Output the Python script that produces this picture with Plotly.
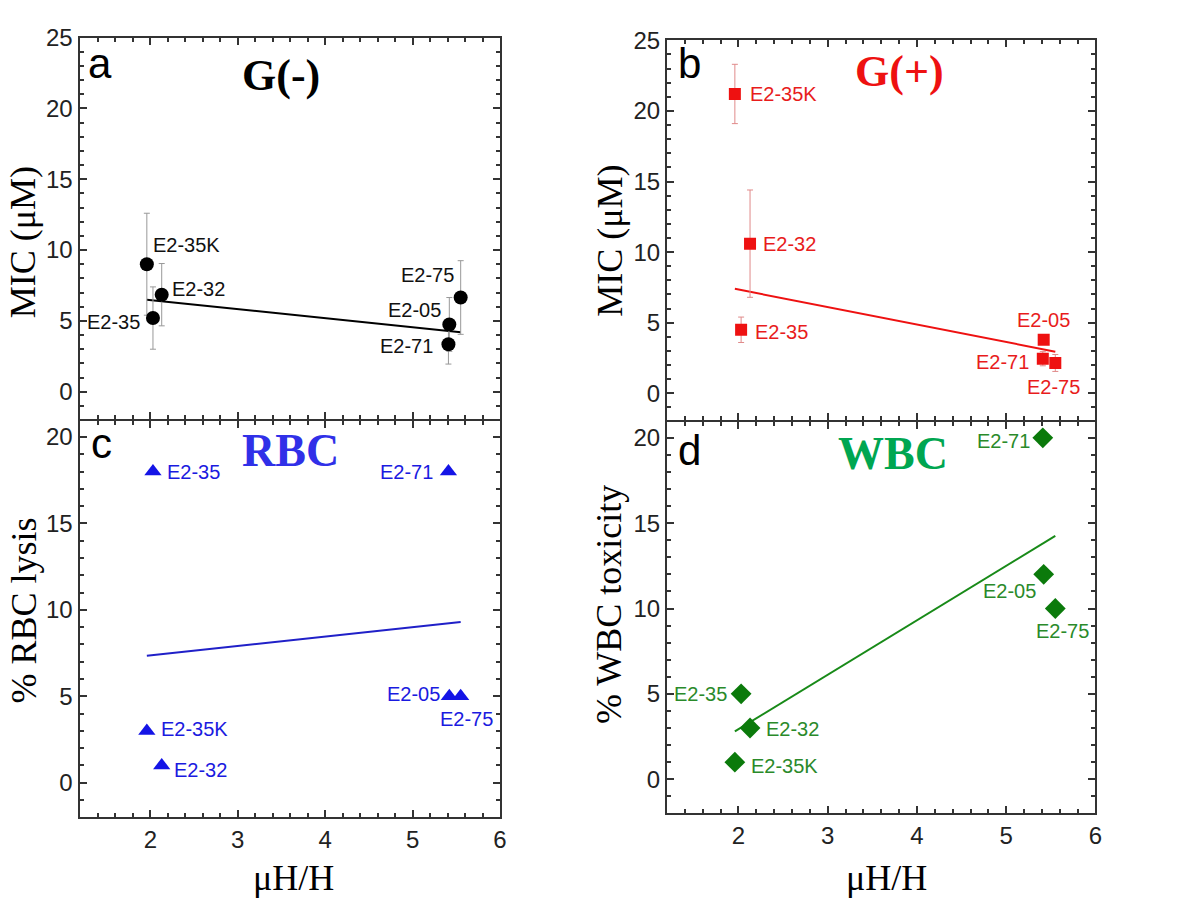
import plotly.graph_objects as go

W, H = 1181, 900

# ---------------- data ----------------
peptides = ["E2-35K", "E2-35", "E2-32", "E2-05", "E2-71", "E2-75"]
mu_h_ratio = [1.96, 2.03, 2.13, 5.42, 5.41, 5.55]

mic_gneg = [9.0, 5.2, 6.85, 4.75, 3.35, 6.65]
mic_gneg_err = [3.6, 2.2, 2.2, 1.9, 1.4, 2.6]

mic_gpos = [21.2, 4.5, 10.6, 3.8, 2.45, 2.15]
mic_gpos_err = [2.1, 0.9, 3.8, 0.3, 0.5, 0.6]

rbc_lysis = [3, 18, 1, 5, 18, 5]
wbc_toxicity = [1, 5, 3, 12, 20, 10]

fit_x = [1.96, 5.55]
fit_gneg = [6.5, 4.2]
fit_gpos = [7.4, 2.95]
fit_rbc = [7.35, 9.3]
fit_wbc = [2.8, 14.25]

# ---------------- styling ----------------
SANS = "Liberation Sans"
SERIF = "Liberation Serif"
FRAME = "#333333"

def px_x(p):
    return p / W

def px_y(p):
    return 1 - p / H

def ax(domain, anchor, rng, dtick, mdtick, show_labels=True):
    return dict(domain=domain, anchor=anchor, range=rng, showline=True, linecolor=FRAME, linewidth=2,
                mirror="allticks", ticks="inside", ticklen=7, tickwidth=2, tickcolor=FRAME,
                showgrid=False, zeroline=False, tick0=0, dtick=dtick, showticklabels=show_labels,
                tickfont=dict(family=SANS, size=24, color="#222"),
                minor=dict(ticks="inside", ticklen=4, dtick=mdtick, tick0=0,
                           tickwidth=1.5, tickcolor=FRAME))

xd_left = [px_x(80), px_x(503)]
xd_right = [px_x(671), px_x(1102)]

layout_axes = dict(
    xaxis=ax(xd_left, "y", [1.19, 6.0], 1, 0.2, show_labels=False),
    yaxis=ax([px_y(411), px_y(24)], "x", [-1.9, 25], 5, 1),
    xaxis2=ax(xd_right, "y2", [1.2, 6.0], 1, 0.2, show_labels=False),
    yaxis2=ax([px_y(412), px_y(26)], "x2", [-1.86, 25.05], 5, 1),
    xaxis3=ax(xd_left, "y3", [1.19, 6.0], 1, 0.2),
    yaxis3=ax([px_y(816), px_y(413)], "x3", [-2.0, 20.95], 5, 1),
    xaxis4=ax(xd_right, "y4", [1.2, 6.0], 1, 0.2),
    yaxis4=ax([px_y(812), px_y(414)], "x4", [-2.0, 20.95], 5, 1),
)
axis_ids = {"a": ("x", "y"), "b": ("x2", "y2"), "c": ("x3", "y3"), "d": ("x4", "y4")}

fig = go.Figure()

series = [
    ("a", mic_gneg, mic_gneg_err, fit_gneg, dict(symbol="circle", size=14, color="#000000"),
     "#999999", "#000000", "#111111"),
    ("b", mic_gpos, mic_gpos_err, fit_gpos, dict(symbol="square", size=12, color="#ee1111"),
     "#e08a8a", "#ee1111", "#e81c1c"),
    ("c", rbc_lysis, None, fit_rbc, dict(symbol="triangle-up", size=15, color="#1414e6"),
     None, "#2020c8", "#1a1ae0"),
    ("d", wbc_toxicity, None, fit_wbc, dict(symbol="diamond", size=16, color="#0b7a0b"),
     None, "#188a18", "#2a8a2a"),
]

for key, vals, errs, fit, marker, errcol, linecol, txtcol in series:
    xa, ya = axis_ids[key]
    fig.add_trace(go.Scatter(
        x=fit_x, y=fit, mode="lines", line=dict(color=linecol, width=2),
        xaxis=xa, yaxis=ya, showlegend=False))
    tr = dict(x=mu_h_ratio, y=vals, mode="markers", marker=marker,
              xaxis=xa, yaxis=ya, showlegend=False)
    if errs is not None:
        tr["error_y"] = dict(type="data", array=errs, color=errcol, thickness=1, width=3)
    fig.add_trace(go.Scatter(**tr))

# label offsets (pixels) per panel and peptide
label_pos = {
    "a": {"E2-35K": ("left", 4, 19), "E2-35": ("right", -11, -4), "E2-32": ("left", 8, 6),
          "E2-05": ("right", -6, 14), "E2-71": ("right", -13, -2), "E2-75": ("right", -5, 23)},
    "b": {"E2-35K": ("left", 13, 0), "E2-35": ("left", 12, -2), "E2-32": ("left", 11, 0),
          "E2-05": ("center", 0, 20), "E2-71": ("right", -12, -3), "E2-75": ("center", -2, -24)},
    "c": {"E2-35K": ("left", 12, 2), "E2-35": ("left", 12, 0), "E2-32": ("left", 10, -5),
          "E2-05": ("right", -7, 2), "E2-71": ("right", -13, 0), "E2-75": ("center", 6, -23)},
    "d": {"E2-35K": ("left", 14, -4), "E2-35": ("right", -12, 0), "E2-32": ("left", 14, -1),
          "E2-05": ("right", -6, -17), "E2-71": ("right", -11, -3), "E2-75": ("center", 7, -22)},
}

annotations = []
for key, vals, errs, fit, marker, errcol, linecol, txtcol in series:
    xa, ya = axis_ids[key]
    for name, xv, yv in zip(peptides, mu_h_ratio, vals):
        anchor, dx, dy = label_pos[key][name]
        annotations.append(dict(
            x=xv, y=yv, xref=xa, yref=ya, text=name, showarrow=False,
            xanchor=anchor, yanchor="middle", xshift=dx, yshift=dy,
            font=dict(family=SANS, size=20, color=txtcol)))

def paper_text(x, y, text, font, angle=0):
    annotations.append(dict(x=px_x(x), y=px_y(y), xref="paper", yref="paper", text=text,
                            showarrow=False, xanchor="center", yanchor="middle",
                            textangle=angle, font=font))

letter_font = dict(family=SANS, size=42, color="#000000")
paper_text(101, 50, "a", letter_font)
paper_text(694, 50, "b", letter_font)
paper_text(102, 436, "c", letter_font)
paper_text(694, 443, "d", letter_font)

paper_text(283, 62, "<b>G(-)</b>", dict(family=SERIF, size=44, color="#000000"))
paper_text(905, 58, "<b>G(+)</b>", dict(family=SERIF, size=44, color="#ee1111"))
paper_text(292, 443, "<b>RBC</b>", dict(family=SERIF, size=46, color="#3030e8"))
paper_text(898, 446, "<b>WBC</b>", dict(family=SERIF, size=46, color="#00a651"))

axis_font = dict(family=SERIF, size=36, color="#000000")
paper_text(24, 232, "MIC (μM)", axis_font, -90)
paper_text(614, 230, "MIC (μM)", axis_font, -90)
paper_text(24, 606, "% RBC lysis", axis_font, -90)
paper_text(612, 600, "% WBC toxicity", axis_font, -90)
paper_text(295, 878, "μH/H", axis_font)
paper_text(892, 878, "μH/H", axis_font)

fig.update_layout(
    width=W, height=H, margin=dict(l=0, r=0, t=0, b=0), showlegend=False,
    paper_bgcolor="white", plot_bgcolor="white",
    annotations=annotations, **layout_axes)

fig.write_html("out.html")
